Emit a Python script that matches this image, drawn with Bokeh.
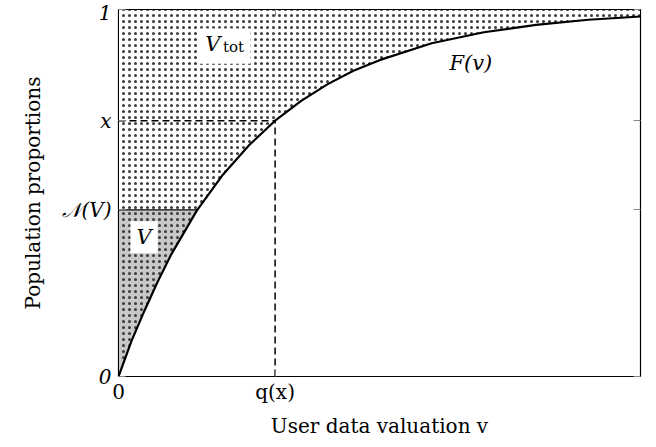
import numpy as np
from bokeh.plotting import figure
from bokeh.models import Range1d, FixedTicker, LinearAxis, Label, BoxAnnotation
from bokeh.embed import file_html
from bokeh.resources import INLINE

# curve F(v)
v_curve = [0.0, 0.025, 0.05, 0.075, 0.1, 0.15, 0.2, 0.25, 0.3, 0.35, 0.4, 0.45, 0.5, 0.6, 0.7, 0.8, 0.9, 1.0]
F_curve = [0.0, 0.097, 0.180, 0.258, 0.330, 0.452, 0.550, 0.630, 0.697, 0.751, 0.796, 0.833, 0.862, 0.908, 0.938, 0.958, 0.972, 0.981]
q_x = 0.30        # q(x)
x_level = 0.697   # x
nV = 0.454        # N(V)
x_ticks = [0.0, q_x]
x_labels = ["0", "q(x)"]
y_ticks = [0.0, nV, x_level, 1.0]
y_labels = ["0", "𝒩(V)", "x", "1"]

FONT = "DejaVu Serif"
FS = "20px"

p = figure(width=648, height=440, x_range=Range1d(0, 1), y_range=Range1d(0, 1),
           output_backend="svg", toolbar_location=None,
           min_border_left=118, min_border_right=8, min_border_top=9, min_border_bottom=60)
p.xgrid.visible = False
p.ygrid.visible = False
p.outline_line_color = "black"
p.outline_line_width = 1.2

HATCH = dict(hatch_pattern="dot", hatch_scale=6, hatch_weight=2.6, hatch_color="#3a3a3a")

# V_tot region (above the curve)
vt_x = list(v_curve) + [1.0, 0.0]
vt_y = list(F_curve) + [1.0, 1.0]
p.patch(vt_x, vt_y, fill_color="white", line_color=None, **HATCH)

# V region (left of curve, below N(V))
v_cross = float(np.interp(nV, F_curve, v_curve))
vx = [v for v, f in zip(v_curve, F_curve) if f < nV] + [v_cross, 0.0]
vy = [f for v, f in zip(v_curve, F_curve) if f < nV] + [nV, nV]
p.patch(vx, vy, fill_color="#c8c8c8", line_color=None, **HATCH)
p.line([0.0, v_cross], [nV, nV], line_color="black", line_width=1.2)

# dashed guides
p.line([0.0, q_x], [x_level, x_level], line_color="black", line_width=1.5, line_dash="7 4")
p.line([q_x, q_x], [0.0, x_level], line_color="black", line_width=1.5, line_dash="7 4")

# curve
p.line(v_curve, F_curve, line_color="black", line_width=2.2)

# labels
p.add_layout(BoxAnnotation(left=0.151, right=0.253, bottom=0.852, top=0.948,
                           fill_color="white", fill_alpha=1.0, line_color=None))
p.add_layout(Label(x=0.166, y=0.872, text="V", text_font=FONT, text_font_style="italic",
                   text_font_size="21px", text_color="black"))
p.add_layout(Label(x=0.200, y=0.872, text="tot", text_font=FONT,
                   text_font_size="15px", text_color="black"))
p.add_layout(BoxAnnotation(left=0.023, right=0.075, bottom=0.336, top=0.423,
                           fill_color="white", fill_alpha=1.0, line_color=None))
p.add_layout(Label(x=0.049, y=0.379, text="V", text_font=FONT, text_font_style="italic",
                   text_font_size="21px", text_align="center", text_baseline="middle",
                   text_color="black"))
p.add_layout(Label(x=0.675, y=0.855, text="F(v)", text_font=FONT, text_font_style="italic",
                   text_font_size="21px", text_align="center", text_baseline="middle",
                   text_color="black"))

# axes
for ax in (p.xaxis[0], p.yaxis[0]):
    ax.axis_line_color = "black"
    ax.major_tick_in = 7
    ax.major_tick_out = 0
    ax.minor_tick_line_color = None
    ax.major_tick_line_color = "#888888"
    ax.major_label_text_font = FONT
    ax.major_label_text_font_size = FS
    ax.major_label_text_color = "black"
    ax.axis_label_text_font = FONT
    ax.axis_label_text_font_size = FS
    ax.axis_label_text_font_style = "normal"
    ax.axis_label_text_color = "black"

p.xaxis[0].ticker = FixedTicker(ticks=x_ticks)
p.xaxis[0].major_label_overrides = {t: l for t, l in zip(x_ticks, x_labels)}
p.xaxis[0].axis_label = "User data valuation v"
p.xaxis[0].axis_label_standoff = 7
p.xaxis[0].major_label_standoff = 3
p.yaxis[0].ticker = FixedTicker(ticks=y_ticks)
p.yaxis[0].major_label_overrides = {t: l for t, l in zip(y_ticks, y_labels)}
p.yaxis[0].major_label_text_font_style = "italic"
p.yaxis[0].axis_label = "Population proportions"
p.yaxis[0].axis_label_standoff = 14
p.yaxis[0].major_label_standoff = 7

right = LinearAxis(ticker=FixedTicker(ticks=y_ticks), major_label_text_font_size="0px",
                   major_tick_in=7, major_tick_out=0, major_tick_line_color="#888888",
                   minor_tick_line_color=None, axis_line_color="black")
right.major_label_overrides = {t: "" for t in y_ticks}
p.add_layout(right, "right")
top = LinearAxis(ticker=FixedTicker(ticks=x_ticks), major_label_text_font_size="0px",
                 major_tick_in=7, major_tick_out=0, major_tick_line_color="#888888",
                 minor_tick_line_color=None, axis_line_color="black")
top.major_label_overrides = {t: "" for t in x_ticks}
p.add_layout(top, "above")

open("out.html", "w").write(file_html(p, INLINE))
